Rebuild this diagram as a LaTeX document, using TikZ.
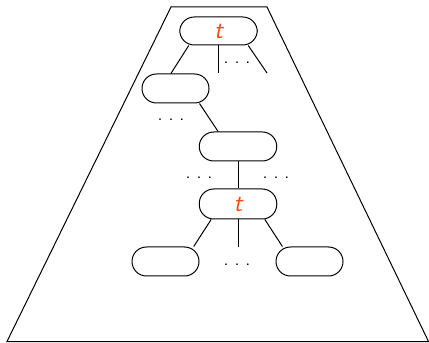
\documentclass[tikz,border=0pt]{standalone}
\usepackage{xcolor}
\usepackage{tikz}
\usetikzlibrary{positioning}
\definecolor{termred}{RGB}{245,75,15}
\newcommand{\gapdots}{.\kern3.6pt.\kern3.6pt.}

\begin{document}
\begin{tikzpicture}[x=0.6pt,y=-0.6pt,line width=0.6pt,
  every node/.style={font=\sffamily},
  pill/.style={draw,rectangle,rounded corners=8.7pt,minimum width=46.5pt,minimum height=17.4pt,inner sep=0pt},
  smallpill/.style={pill,minimum width=40.2pt},
  term/.style={text=termred,font=\sffamily\itshape\fontsize{15}{17}\selectfont},
  gap/.style={font=\sffamily\fontsize{11}{13}\selectfont,inner sep=0pt}]
  \useasboundingbox (0,0) rectangle (429,343);
  % the trapezoid around the term tree
  \draw (7,341.5) -- (171,7) -- (267,7) -- (428.5,341.5) -- cycle;
  % nodes of the tree
  \node[pill,term,minimum height=16.8pt] (top) at (218.5,31) {t};
  \node[smallpill] (left) at (175.5,88.5) {};
  \node[pill] (mid) at (238,146.5) {};
  \node[pill,term,minimum height=18pt] (sub) at (238,204) {t};
  \node[smallpill] (leafl) at (165.5,261.5) {};
  \node[smallpill] (leafr) at (309.5,261.5) {};
  \coordinate (topv) at (218.5,73);
  \coordinate (topr) at (267,73);
  \coordinate (subv) at (238,247);
  % edges
  \draw (top.206) -- (left.107);
  \draw (top.south) -- (topv);
  \draw (top.334) -- (topr);
  \draw (left.328) -- (mid.143);
  \draw (mid.south) -- (sub.north);
  \draw (sub.210) -- (leafl.28);
  \draw (sub.south) -- (subv);
  \draw (sub.330) -- (leafr.151);
  % omitted siblings
  \foreach \x/\y [count=\i] in {237/63, 171/120, 199/178, 276/178, 237/265}
    \node[gap] (dots\i) at (\x,\y) {\gapdots};
\end{tikzpicture}
\end{document}
